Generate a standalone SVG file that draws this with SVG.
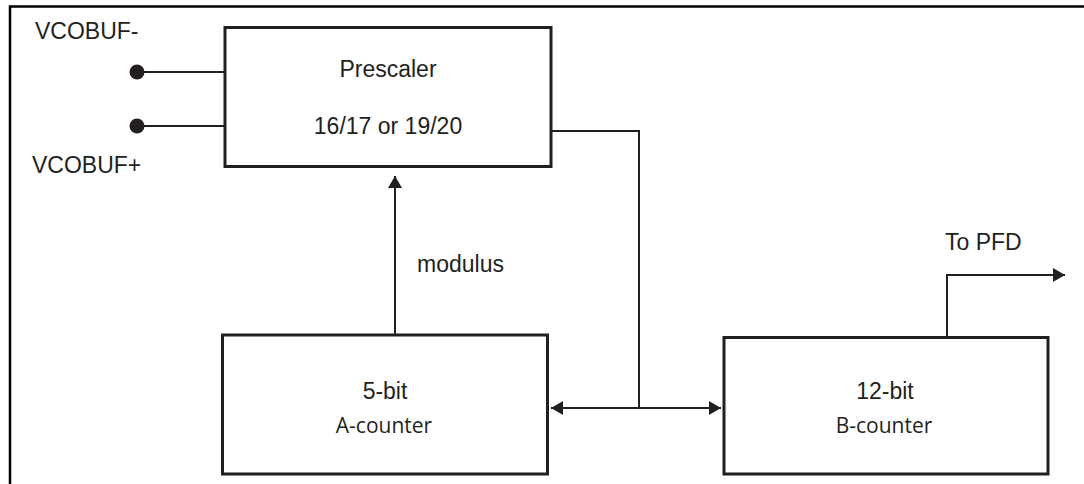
<svg xmlns="http://www.w3.org/2000/svg" width="1084" height="484" viewBox="0 0 1084 484">
<style>
.box{fill:#fff;stroke:#231f20;stroke-width:3}
.wire{fill:none;stroke:#231f20;stroke-width:2}
.frame{fill:none;stroke:#000;stroke-width:2.5}
.t{font-family:"Liberation Sans",Arial,sans-serif;font-size:23px;fill:#231f20}
.m{font-family:"Open Sans","Noto Sans",sans-serif;font-size:21px;fill:#231f20}
.dot{fill:#231f20}
</style>
<defs>
<marker id="ah" viewBox="0 0 12 14" refX="12" refY="7" markerWidth="12" markerHeight="14" markerUnits="userSpaceOnUse" orient="auto-start-reverse">
<path d="M0,0 L12,7 L0,14 Z" fill="#231f20"/>
</marker>
</defs>
<rect width="1084" height="484" fill="#fff"/>
<path class="frame" d="M10,484 V6.5 H1084"/>
<g id="connectors">
<line class="wire" x1="137" y1="72" x2="225" y2="72"/>
<line class="wire" x1="137" y1="126" x2="225" y2="126"/>
<polyline class="wire" points="551,131 639,131 639,408"/>
<line class="wire" x1="395" y1="335" x2="395" y2="176" marker-end="url(#ah)"/>
<line class="wire" x1="551" y1="408" x2="721" y2="408" marker-start="url(#ah)" marker-end="url(#ah)"/>
<polyline class="wire" points="947,337 947,275 1065,275" marker-end="url(#ah)"/>
</g>
<g id="vcobuf-minus">
<circle class="dot" cx="137" cy="72" r="7.5"/>
<text class="t" x="35" y="39">VCOBUF-</text>
</g>
<g id="vcobuf-plus">
<circle class="dot" cx="137" cy="126" r="7.5"/>
<text class="t" x="32" y="173">VCOBUF+</text>
</g>
<g id="prescaler">
<rect class="box" x="225" y="27.5" width="326" height="139"/>
<text class="t" x="388" y="77" text-anchor="middle">Prescaler</text>
<text class="t" x="388" y="134" text-anchor="middle">16/17 or 19/20</text>
</g>
<g id="modulus-label">
<text class="t" x="417" y="272">modulus</text>
</g>
<g id="a-counter">
<rect class="box" x="222.5" y="335" width="325" height="139"/>
<text class="t" x="385" y="399" text-anchor="middle">5-bit</text>
<text class="m" x="384" y="433" text-anchor="middle">A-counter</text>
</g>
<g id="b-counter">
<rect class="box" x="724" y="337.5" width="324" height="136.5"/>
<text class="t" x="885" y="399" text-anchor="middle">12-bit</text>
<text class="m" x="884" y="433" text-anchor="middle">B-counter</text>
</g>
<g id="to-pfd">
<text class="t" x="945" y="250">To PFD</text>
</g>
</svg>
